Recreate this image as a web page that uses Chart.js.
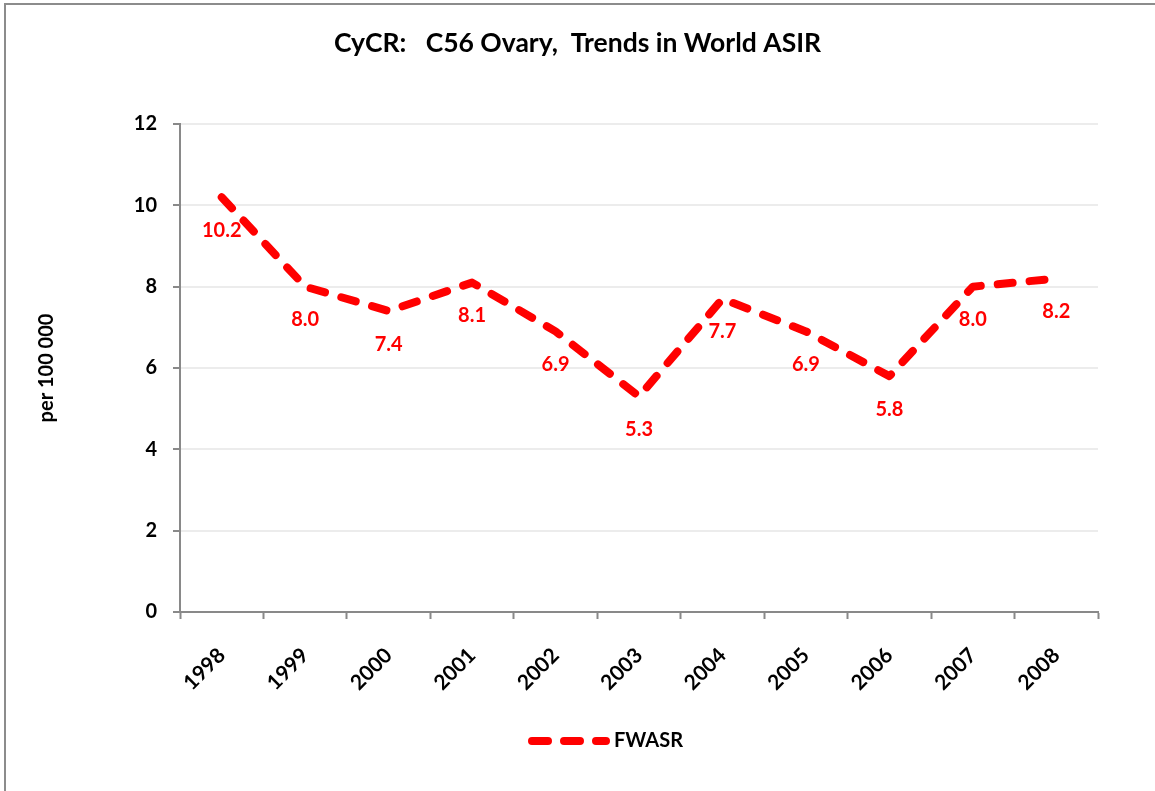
<!DOCTYPE html>
<html>
<head>
<meta charset="utf-8">
<script src="https://cdn.jsdelivr.net/npm/chart.js@4"></script>
<style>
  html, body { margin: 0; padding: 0; background: #fff; }
</style>
</head>
<body>
<canvas id="lineChart" width="1155" height="791"></canvas>
<script>
const years = ["1998", "1999", "2000", "2001", "2002", "2003", "2004", "2005", "2006", "2007", "2008"];
const fwasr = [10.2, 8.0, 7.4, 8.1, 6.9, 5.3, 7.7, 6.9, 5.8, 8.0, 8.2];
const yTicks = [0, 2, 4, 6, 8, 10, 12];

const FONT = "Lato, 'Open Sans', sans-serif";
const RED = "#ff0000";
const AXIS_GREY = "#898989";
const DASH = [15, 17];

// frame round the whole chart, like the spreadsheet chart border
const framePlugin = {
    id: "frame",
    beforeDraw(chart) {
        const ctx = chart.ctx;
        ctx.save();
        ctx.fillStyle = "#fff";
        ctx.fillRect(0, 0, chart.width, chart.height);
        ctx.strokeStyle = "#8c8c8c";
        ctx.lineWidth = 2;
        ctx.strokeRect(5, 4, chart.width + 20, chart.height + 20);
        ctx.restore();
    },
};

// value labels under each point
const valueLabels = {
    id: "valueLabels",
    afterDatasetsDraw(chart) {
        const ctx = chart.ctx;
        const meta = chart.getDatasetMeta(0);
        ctx.save();
        ctx.font = "bold 20px " + FONT;
        ctx.fillStyle = RED;
        ctx.textAlign = "center";
        ctx.textBaseline = "middle";
        meta.data.forEach((pt, i) => {
            ctx.fillText(fwasr[i].toFixed(1), pt.x, pt.y + 33);
        });
        ctx.restore();
    },
};

// nudge the legend so it sits where the original had it
const legendShift = {
    id: "legendShift",
    afterLayout(chart) {
        chart.legend.left += 31;
        chart.legend.right += 31;
    },
};

// dashed swatch for the legend (the built-in 'line' style closes its path, so dashes vanish)
function dashSwatch() {
    const c = document.createElement("canvas");
    c.width = 82;
    c.height = 10;
    const g = c.getContext("2d");
    g.strokeStyle = RED;
    g.lineWidth = 8;
    g.lineCap = "round";
    g.setLineDash([16, 16]);
    g.beginPath();
    g.moveTo(4, 5);
    g.lineTo(78, 5);
    g.stroke();
    return c;
}

const ctx = document.getElementById("lineChart").getContext("2d");

const data = {
    labels: years,
    datasets: [
        {
            label: "FWASR",
            data: fwasr,
            borderColor: RED,
            backgroundColor: RED,
            borderWidth: 8,
            borderDash: DASH,
            borderCapStyle: "round",
            borderJoinStyle: "round",
            pointRadius: 0,
            pointStyle: dashSwatch(),
            fill: false,
            tension: 0,
        },
    ],
};

const config = {
    type: "line",
    data: data,
    options: {
        responsive: false,
        animation: false,
        layout: {
            padding: { top: 28, right: 0, bottom: 30, left: 0 },
        },
        scales: {
            x: {
                offset: true,
                grid: {
                    offset: true,
                    drawOnChartArea: false,
                    tickLength: 7,
                    tickColor: AXIS_GREY,
                    tickWidth: 2,
                },
                border: { color: AXIS_GREY, width: 2 },
                ticks: {
                    color: "#000",
                    font: { family: FONT, size: 21, weight: "bold" },
                    minRotation: 45,
                    maxRotation: 45,
                    padding: 24,
                },
                afterFit(s) { s.height = 109; },
            },
            y: {
                min: 0,
                max: 12,
                afterBuildTicks(s) { s.ticks = yTicks.map(v => ({ value: v })); },
                grid: {
                    color: "#ececec",
                    lineWidth: 2,
                    tickLength: 7,
                    tickColor: AXIS_GREY,
                    tickWidth: 2,
                },
                border: { color: AXIS_GREY, width: 2 },
                ticks: {
                    color: "#000",
                    font: { family: FONT, size: 20, weight: "bold" },
                    padding: 16,
                },
                title: {
                    display: true,
                    text: "per 100 000",
                    color: "#000",
                    font: { family: FONT, size: 20, weight: "bold" },
                    padding: { top: 35, bottom: 0 },
                },
                afterFit(s) { s.width = 180; },
            },
            right: {
                position: "right",
                display: true,
                grid: { display: false },
                border: { display: false },
                ticks: { display: false },
                afterFit(s) { s.width = 57; },
            },
        },
        plugins: {
            title: {
                display: true,
                text: "CyCR:   C56 Ovary,  Trends in World ASIR",
                color: "#000",
                font: { family: FONT, size: 26.5, weight: "bold" },
                padding: { top: 0, bottom: 64.2 },
            },
            legend: {
                display: true,
                position: "bottom",
                labels: {
                    usePointStyle: true,
                    pointStyleWidth: 70,
                    boxWidth: 70,
                    boxHeight: 10,
                    color: "#000",
                    font: { family: FONT, size: 20, weight: "bold" },
                    padding: 10,
                },
            },
            tooltip: { enabled: false },
        },
    },
    plugins: [framePlugin, valueLabels, legendShift],
};

const lineChart = new Chart(ctx, config);
</script>
</body>
</html>
